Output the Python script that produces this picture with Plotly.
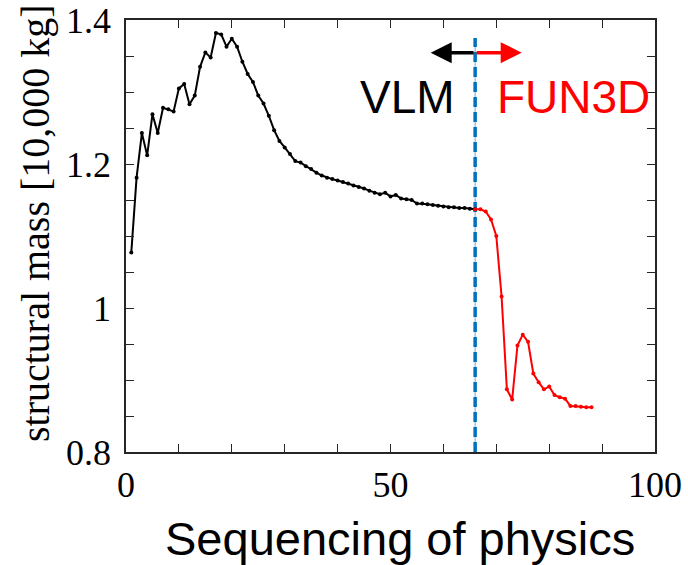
import plotly.graph_objects as go

# ---- data ----
vlm_x = list(range(1, 67))
vlm_mass = [1.077, 1.181, 1.243, 1.212, 1.269, 1.243, 1.278, 1.276, 1.273, 1.305,
            1.311, 1.283, 1.295, 1.335, 1.355, 1.348, 1.382, 1.380, 1.363, 1.374,
            1.363, 1.342, 1.325, 1.314, 1.295, 1.284, 1.267, 1.247, 1.232, 1.223,
            1.214, 1.204, 1.202, 1.197, 1.193, 1.188, 1.184, 1.181, 1.179, 1.177,
            1.175, 1.173, 1.170, 1.168, 1.166, 1.163, 1.160, 1.158, 1.160, 1.155,
            1.157, 1.152, 1.151, 1.150, 1.145, 1.145, 1.144, 1.143, 1.142, 1.141,
            1.140, 1.140, 1.139, 1.139, 1.138, 1.137]

fun3d_x = list(range(66, 89))
fun3d_mass = [1.137, 1.137, 1.134, 1.123, 1.100, 1.016, 0.887, 0.873, 0.948, 0.963,
              0.953, 0.909, 0.897, 0.887, 0.891, 0.879, 0.876, 0.874, 0.864, 0.864,
              0.863, 0.862, 0.862]

switch_x = [66, 66]
switch_y = [0.8, 1.375]

arrow_y = 1.3546
vlm_arrow_end = 57.6
fun3d_arrow_end = 74.8

x_tickvals = list(range(0, 101, 10))
x_ticktext = ["0" if v == 0 else "50" if v == 50 else "100" if v == 100 else "" for v in x_tickvals]
y_tickvals = [round(0.8 + 0.05 * i, 2) for i in range(13)]
y_labels = {0.8: "0.8", 1.0: "1", 1.2: "1.2", 1.4: "1.4"}
y_ticktext = [y_labels.get(v, "") for v in y_tickvals]

x_title = "Sequencing of physics"
y_title = "structural mass [10,000 kg]"

fig = go.Figure()

fig.add_trace(go.Scatter(x=switch_x, y=switch_y, mode="lines",
                         line=dict(color="#6fa8dc", width=1), showlegend=False))
fig.add_trace(go.Scatter(x=switch_x, y=switch_y, mode="lines",
                         line=dict(color="#0072BD", width=3.5, dash="10px,5px"), showlegend=False))
fig.add_trace(go.Scatter(x=vlm_x, y=vlm_mass, mode="lines+markers",
                         line=dict(color="black", width=2),
                         marker=dict(color="black", size=4), showlegend=False))
fig.add_trace(go.Scatter(x=fun3d_x, y=fun3d_mass, mode="lines+markers",
                         line=dict(color="#ff0000", width=2),
                         marker=dict(color="#ff0000", size=4), showlegend=False))

serif = "Liberation Serif"
sans = "Liberation Sans"
axis_color = "#262626"

fig.update_layout(
    width=688, height=565,
    margin=dict(l=126, r=33, t=20, b=113, autoexpand=False),
    paper_bgcolor="white", plot_bgcolor="white",
    xaxis=dict(range=[0, 100], tickmode="array", tickvals=x_tickvals, ticktext=x_ticktext,
               ticks="inside", ticklen=8, tickwidth=1.3, tickcolor=axis_color,
               showline=True, linecolor=axis_color, linewidth=1.5, mirror="ticks",
               showgrid=False, zeroline=False, automargin=False, ticklabeloverflow="allow",
               tickfont=dict(family=serif, size=36, color="black")),
    yaxis=dict(range=[0.8, 1.4], tickmode="array", tickvals=y_tickvals, ticktext=y_ticktext,
               ticks="inside", ticklen=8, tickwidth=1.3, tickcolor=axis_color,
               showline=True, linecolor=axis_color, linewidth=1.5, mirror="ticks",
               showgrid=False, zeroline=False, ticklabelstandoff=6, automargin=False,
               ticklabeloverflow="allow",
               tickfont=dict(family=serif, size=36, color="black")),
)

annotations = [
    dict(x=vlm_arrow_end, y=arrow_y, ax=switch_x[0], ay=arrow_y, xref="x", yref="y",
         axref="x", ayref="y", showarrow=True, arrowhead=2, arrowsize=1.2,
         arrowwidth=3.5, arrowcolor="black", text=""),
    dict(x=fun3d_arrow_end, y=arrow_y, ax=switch_x[0], ay=arrow_y, xref="x", yref="y",
         axref="x", ayref="y", showarrow=True, arrowhead=2, arrowsize=1.2,
         arrowwidth=3.5, arrowcolor="#ff0000", text=""),
    dict(x=62.6, y=1.293, xref="x", yref="y", text="VLM", showarrow=False,
         xanchor="right", yanchor="middle",
         font=dict(family=sans, size=46, color="black")),
    dict(x=69.7, y=1.293, xref="x", yref="y", text="FUN3D", showarrow=False,
         xanchor="left", yanchor="middle",
         font=dict(family=sans, size=46, color="#ff0000")),
    dict(x=0.518, y=-0.2, xref="paper", yref="paper", text=x_title, showarrow=False,
         xanchor="center", yanchor="middle",
         font=dict(family=sans, size=47, color="black")),
    dict(x=-0.172, y=0.53, xref="paper", yref="paper", text=y_title, showarrow=False,
         textangle=-90, xanchor="center", yanchor="middle",
         font=dict(family=serif, size=40, color="black")),
]
fig.update_layout(annotations=annotations)

# remove the default page margin so the 688x565 figure fills the window exactly
fig.write_html("out.html", config={"displayModeBar": False},
               post_script="document.body.style.margin='0';document.body.style.overflow='hidden';")
